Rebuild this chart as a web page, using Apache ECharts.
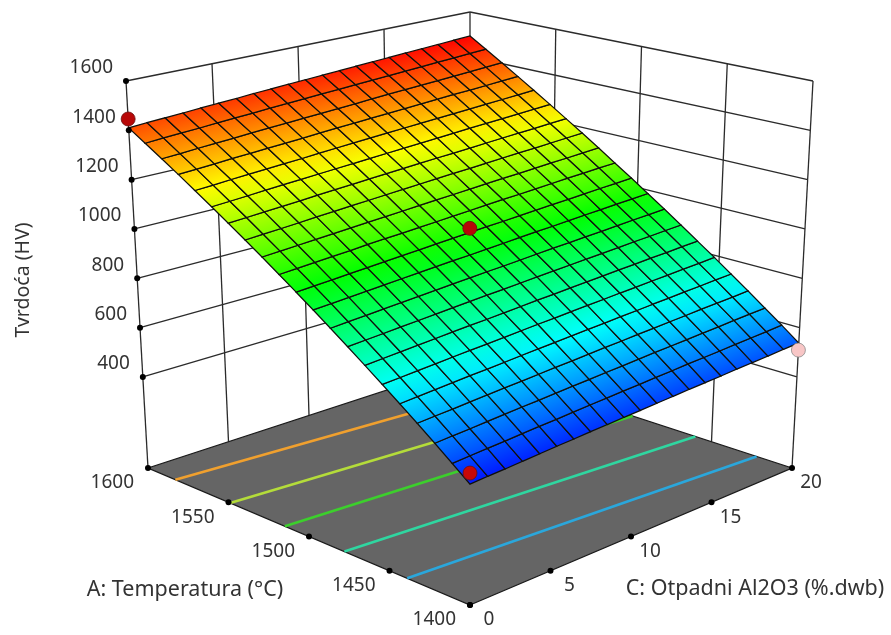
<!DOCTYPE html>
<html><head><meta charset="utf-8">
<style>html,body{margin:0;padding:0;background:#fff}#c{width:891px;height:635px}</style>
<script src="https://cdn.jsdelivr.net/npm/echarts@6/dist/echarts.min.js"></script>
</head><body><div id="c"></div>
<script>
// ---- data ----
const tempTicks = [1400,1450,1500,1550,1600];
const alumTicks = [0,5,10,15,20];
const hardTicks = [400,600,800,1000,1200,1400,1600];
const hardFloor = 31;
// mesh line positions, as read against the axis ticks
const tempMesh = [1400,1410.8,1421.4,1432,1442.5,1452.9,1463.3,1473.5,1483.7,1493.8,1503.8,1513.8,1523.7,1533.5,1543.2,1552.8,1562.4,1571.9,1581.3,1590.7,1600];
const alumMesh = [0,1.08,2.14,3.2,4.25,5.29,6.33,7.35,8.37,9.38,10.38,11.38,12.37,13.35,14.32,15.28,16.24,17.19,18.13,19.07,20];
const hardness = [
[468,472,475,479,483,487,490,494,497,501,504,508,511,515,518,521,525,528,531,535,538],
[519,523,527,530,534,538,541,545,549,552,556,559,563,566,570,573,576,580,583,586,590],
[569,573,576,580,584,588,591,595,599,602,606,609,613,617,620,623,627,630,634,637,640],
[619,623,626,630,634,638,641,645,649,652,656,660,663,667,670,674,677,681,684,687,691],
[668,672,676,680,684,687,691,695,699,702,706,710,713,717,720,724,727,731,734,738,741],
[717,721,725,729,733,737,740,744,748,752,755,759,763,766,770,773,777,780,784,787,791],
[766,770,774,778,782,786,790,793,797,801,805,808,812,816,819,823,826,830,833,837,840],
[814,818,822,826,830,834,838,842,846,849,853,857,861,864,868,871,875,879,882,886,889],
[862,866,870,874,878,882,886,890,894,898,901,905,909,913,916,920,923,927,931,934,938],
[910,914,918,922,926,930,934,938,942,945,949,953,957,961,964,968,972,975,979,982,986],
[957,961,965,969,973,977,981,985,989,993,997,1001,1004,1008,1012,1016,1019,1023,1027,1030,1034],
[1004,1008,1012,1016,1020,1025,1029,1032,1036,1040,1044,1048,1052,1056,1059,1063,1067,1071,1074,1078,1081],
[1051,1055,1059,1063,1067,1071,1075,1079,1083,1087,1091,1095,1099,1103,1107,1110,1114,1118,1121,1125,1129],
[1097,1101,1105,1109,1114,1118,1122,1126,1130,1134,1138,1142,1146,1149,1153,1157,1161,1164,1168,1172,1176],
[1143,1147,1151,1155,1159,1164,1168,1172,1176,1180,1184,1188,1192,1195,1199,1203,1207,1211,1214,1218,1222],
[1188,1192,1196,1201,1205,1209,1213,1217,1221,1225,1229,1233,1237,1241,1245,1249,1253,1256,1260,1264,1268],
[1233,1237,1242,1246,1250,1254,1258,1263,1267,1271,1275,1279,1283,1287,1291,1294,1298,1302,1306,1310,1314],
[1278,1282,1286,1291,1295,1299,1303,1307,1312,1316,1320,1324,1328,1332,1336,1340,1344,1347,1351,1355,1359],
[1322,1326,1331,1335,1339,1344,1348,1352,1356,1360,1364,1368,1373,1377,1381,1384,1388,1392,1396,1400,1404],
[1366,1371,1375,1379,1384,1388,1392,1397,1401,1405,1409,1413,1417,1421,1425,1429,1433,1437,1441,1445,1449],
[1410,1415,1419,1423,1428,1432,1436,1441,1445,1449,1453,1457,1461,1465,1469,1473,1477,1481,1485,1489,1493]
];
const contourTempAtAlum0  = [1583,1549,1515,1478,1439];
const contourTempAtAlum20 = [1566,1532,1499,1460,1422];
const contourColors = ['#f0a02e','#b4dc3a','#3ccf2c','#2fd6a0','#2aa7dc'];
const designTemp = [1600,1500,1400,1400];
const designAlum = [0,10,0,20];
const designHard = [1446,1028,508,509];
const designFill = ['#b80808','#b80808','#c80808','#f8c6c6'];
const yAxisName = 'Tvrdoća (HV)';
const tempAxisName = 'A: Temperatura (°C)';
const alumAxisName = 'C: Otpadni Al2O3 (%.dwb)';

// ---- view: screen corners of the plot box, order front,right,left,back ----
const floorBox = [[470,605],[792,468],[148,468],[470,363]];
const topBox   = [[470,171],[813,81],[126,81],[470,12]];
const TMIN=1400,TMAX=1600,AMIN=0,AMAX=20,ZMAX=1600;
function lerpBox(b,u,v){
  const p=(k)=>b[0][k]*(1-u)*(1-v)+b[1][k]*u*(1-v)+b[2][k]*(1-u)*v+b[3][k]*u*v;
  return [p(0),p(1)];
}
function proj(T,A,Z){
  const u=(A-AMIN)/(AMAX-AMIN),v=(T-TMIN)/(TMAX-TMIN),w=(Z-hardFloor)/(ZMAX-hardFloor);
  const f=lerpBox(floorBox,u,v),t=lerpBox(topBox,u,v);
  return [f[0]+(t[0]-f[0])*w,f[1]+(t[1]-f[1])*w];
}
// colour scale
const zLo=445,zHi=1493;
const ramp=[[0,0,255],[0,255,255],[0,255,0],[255,255,0],[255,0,0]];
function colorOf(z){
  let q=Math.max(0,Math.min(1,(z-zLo)/(zHi-zLo)))*4,i=Math.min(3,Math.floor(q)),f=q-i;
  const c=ramp[i].map((x,k)=>Math.round(x+(ramp[i+1][k]-x)*f));
  return 'rgb('+c.join(',')+')';
}

const wallSegs=[];
hardTicks.forEach(z=>{
  wallSegs.push([TMAX,AMIN,z,TMAX,AMAX,z]);
  wallSegs.push([TMAX,AMAX,z,TMIN,AMAX,z]);
});
alumTicks.forEach(a=>wallSegs.push([TMAX,a,hardFloor,TMAX,a,ZMAX]));
tempTicks.slice(0,-1).forEach(t=>wallSegs.push([t,AMAX,hardFloor,t,AMAX,ZMAX]));

const cells=[];
for(let i=0;i<tempMesh.length-1;i++)for(let j=0;j<alumMesh.length-1;j++)cells.push([i,j]);

const dots=[];
hardTicks.forEach(z=>dots.push(proj(TMAX,AMIN,z)));
tempTicks.forEach(t=>dots.push(proj(t,AMIN,hardFloor)));
alumTicks.forEach(a=>dots.push(proj(TMIN,a,hardFloor)));

const TICK_FONT='19px "Noto Sans","Open Sans",sans-serif';
const NAME_FONT='21.5px "Noto Sans","Open Sans",sans-serif';
const labels=[];
hardTicks.forEach(z=>{const p=proj(TMAX,AMIN,z);labels.push([p[0]-13,p[1]-13,String(z),'right',TICK_FONT]);});
tempTicks.forEach(t=>{const p=proj(t,AMIN,hardFloor);labels.push([p[0]-14,p[1]+15,String(t),'right',TICK_FONT]);});
alumTicks.forEach(a=>{const p=proj(TMIN,a,hardFloor);labels.push([p[0]+19,p[1]+15,String(a),'center',TICK_FONT]);});
labels.push([185,590,tempAxisName,'center',NAME_FONT]);
labels.push([755,589,alumAxisName,'center',NAME_FONT]);

const option={
  animation:false,
  backgroundColor:'#fff',
  grid:{left:0,right:0,top:0,bottom:0},
  xAxis:{type:'value',min:0,max:891,show:false},
  yAxis:{type:'value',min:0,max:635,inverse:true,show:false},
  series:[
    {type:'custom',silent:true,data:wallSegs,encode:{x:0,y:1},clip:false,
      renderItem(params,api){
        const s=wallSegs[params.dataIndex];
        const a=api.coord(proj(s[0],s[1],s[2])),b=api.coord(proj(s[3],s[4],s[5]));
        return {type:'line',shape:{x1:a[0],y1:a[1],x2:b[0],y2:b[1]},style:{stroke:'#2b2b2b',lineWidth:1.3}};
      }},
    {type:'custom',silent:true,data:[[0,0]],encode:{x:0,y:1},clip:false,
      renderItem(params,api){
        const c=[[TMIN,AMIN],[TMIN,AMAX],[TMAX,AMAX],[TMAX,AMIN]].map(q=>api.coord(proj(q[0],q[1],hardFloor)));
        return {type:'polygon',shape:{points:c},style:{fill:'#656565',stroke:'#1a1a1a',lineWidth:1.3}};
      }},
    {type:'custom',silent:true,data:contourColors.map((c,i)=>[i,0]),encode:{x:0,y:1},clip:false,
      renderItem(params,api){
        const i=params.dataIndex;
        const a=api.coord(proj(contourTempAtAlum0[i],AMIN,hardFloor)),b=api.coord(proj(contourTempAtAlum20[i],AMAX,hardFloor));
        return {type:'line',shape:{x1:a[0],y1:a[1],x2:b[0],y2:b[1]},style:{stroke:contourColors[i],lineWidth:2.6}};
      }},
    {type:'scatter',silent:true,symbol:'circle',symbolSize:6,data:dots,itemStyle:{color:'#000',opacity:1},clip:false},
    {type:'custom',silent:true,data:cells,encode:{x:0,y:1},clip:false,
      renderItem(params,api){
        const c=cells[params.dataIndex],i=c[0],j=c[1];
        const V=(ii,jj)=>api.coord(proj(tempMesh[ii],alumMesh[jj],hardness[ii][jj]));
        const p00=V(i,j),p01=V(i,j+1),p11=V(i+1,j+1),p10=V(i+1,j);
        const zl=(hardness[i][j]+hardness[i][j+1])/2,zh=(hardness[i+1][j]+hardness[i+1][j+1])/2;
        const lo=[(p00[0]+p01[0])/2,(p00[1]+p01[1])/2],hi=[(p10[0]+p11[0])/2,(p10[1]+p11[1])/2];
        let ex=p01[0]-p00[0],ey=p01[1]-p00[1],L=Math.hypot(ex,ey);ex/=L;ey/=L;
        const nx=-ey,ny=ex,d=(hi[0]-lo[0])*nx+(hi[1]-lo[1])*ny;
        const g=new echarts.graphic.LinearGradient(lo[0],lo[1],lo[0]+nx*d,lo[1]+ny*d,
          [{offset:0,color:colorOf(zl)},{offset:1,color:colorOf(zh)}],true);
        return {type:'polygon',shape:{points:[p00,p01,p11,p10]},style:{fill:g,stroke:'#10100c',lineWidth:1.25}};
      }},
    {type:'scatter',silent:true,symbol:'circle',symbolSize:14,clip:false,
      data:designTemp.map((t,i)=>({value:proj(t,designAlum[i],designHard[i]),itemStyle:{opacity:1,color:designFill[i],borderColor:i===3?'#8a8a8a':'#6a1010',borderWidth:0.8}}))},
    {type:'custom',silent:true,data:labels.map((l,i)=>[i,0]),encode:{x:0,y:1},clip:false,
      renderItem(params,api){
        const l=labels[params.dataIndex],p=api.coord([l[0],l[1]]);
        return {type:'text',style:{text:l[2],x:p[0],y:p[1],align:l[3],verticalAlign:'middle',font:l[4],fill:'#333'}};
      }},
    {type:'custom',silent:true,data:[[0,0]],encode:{x:0,y:1},clip:false,
      renderItem(params,api){
        const p=api.coord([23,280]);
        return {type:'text',x:p[0],y:p[1],rotation:Math.PI/2,style:{text:yAxisName,x:0,y:0,align:'center',verticalAlign:'middle',font:'19.5px "Noto Sans","Open Sans",sans-serif',fill:'#333'}};
      }}
  ]
};
const chart=echarts.init(document.getElementById('c'),null,{renderer:'canvas'});
chart.setOption(option);
</script></body></html>
